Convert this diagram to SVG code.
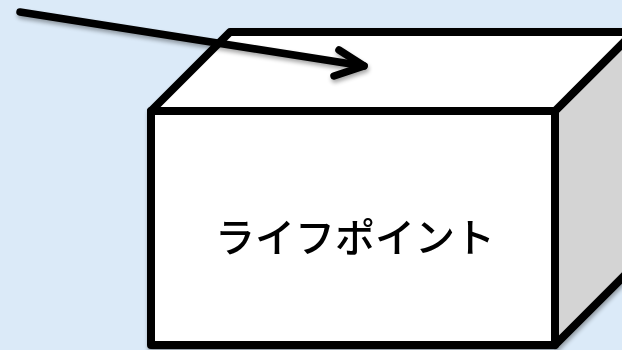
<svg xmlns="http://www.w3.org/2000/svg" width="622" height="350" viewBox="0 0 622 350">
  <defs>
    <filter id="sh" x="-10%" y="-10%" width="130%" height="130%">
      <feGaussianBlur in="SourceAlpha" stdDeviation="2"/>
      <feOffset dx="1" dy="3" result="b"/>
      <feComponentTransfer><feFuncA type="linear" slope="0.35"/></feComponentTransfer>
      <feMerge><feMergeNode/><feMergeNode in="SourceGraphic"/></feMerge>
    </filter>
    <style>
      .edge { stroke: #000; stroke-width: 8; stroke-linejoin: round; }
      .lbl { font-family: "Noto Sans CJK JP", "Noto Sans", sans-serif; font-size: 40px; font-weight: 500; fill: #000; }
      .arrow { fill: none; stroke: #000; stroke-width: 7.5; stroke-linecap: round; stroke-linejoin: round; }
    </style>
  </defs>
  <rect x="0" y="0" width="622" height="350" fill="#dbeaf8"/>
  <g id="box" filter="url(#sh)">
    <polygon class="edge" points="555,111 634,32 634,266 555,345" fill="#d4d4d4"/>
    <polygon class="edge" points="151,111 230,32 634,32 555,111" fill="#ffffff"/>
    <rect class="edge" x="151" y="111" width="404" height="234" fill="#ffffff"/>
    <text class="lbl" x="355" y="252" text-anchor="middle">ライフポイント</text>
  </g>
  <g id="connectors" filter="url(#sh)">
    <path class="arrow" d="M20,12 L364,66"/>
    <path class="arrow" d="M339,50 L364,66 L334,76"/>
  </g>
</svg>
